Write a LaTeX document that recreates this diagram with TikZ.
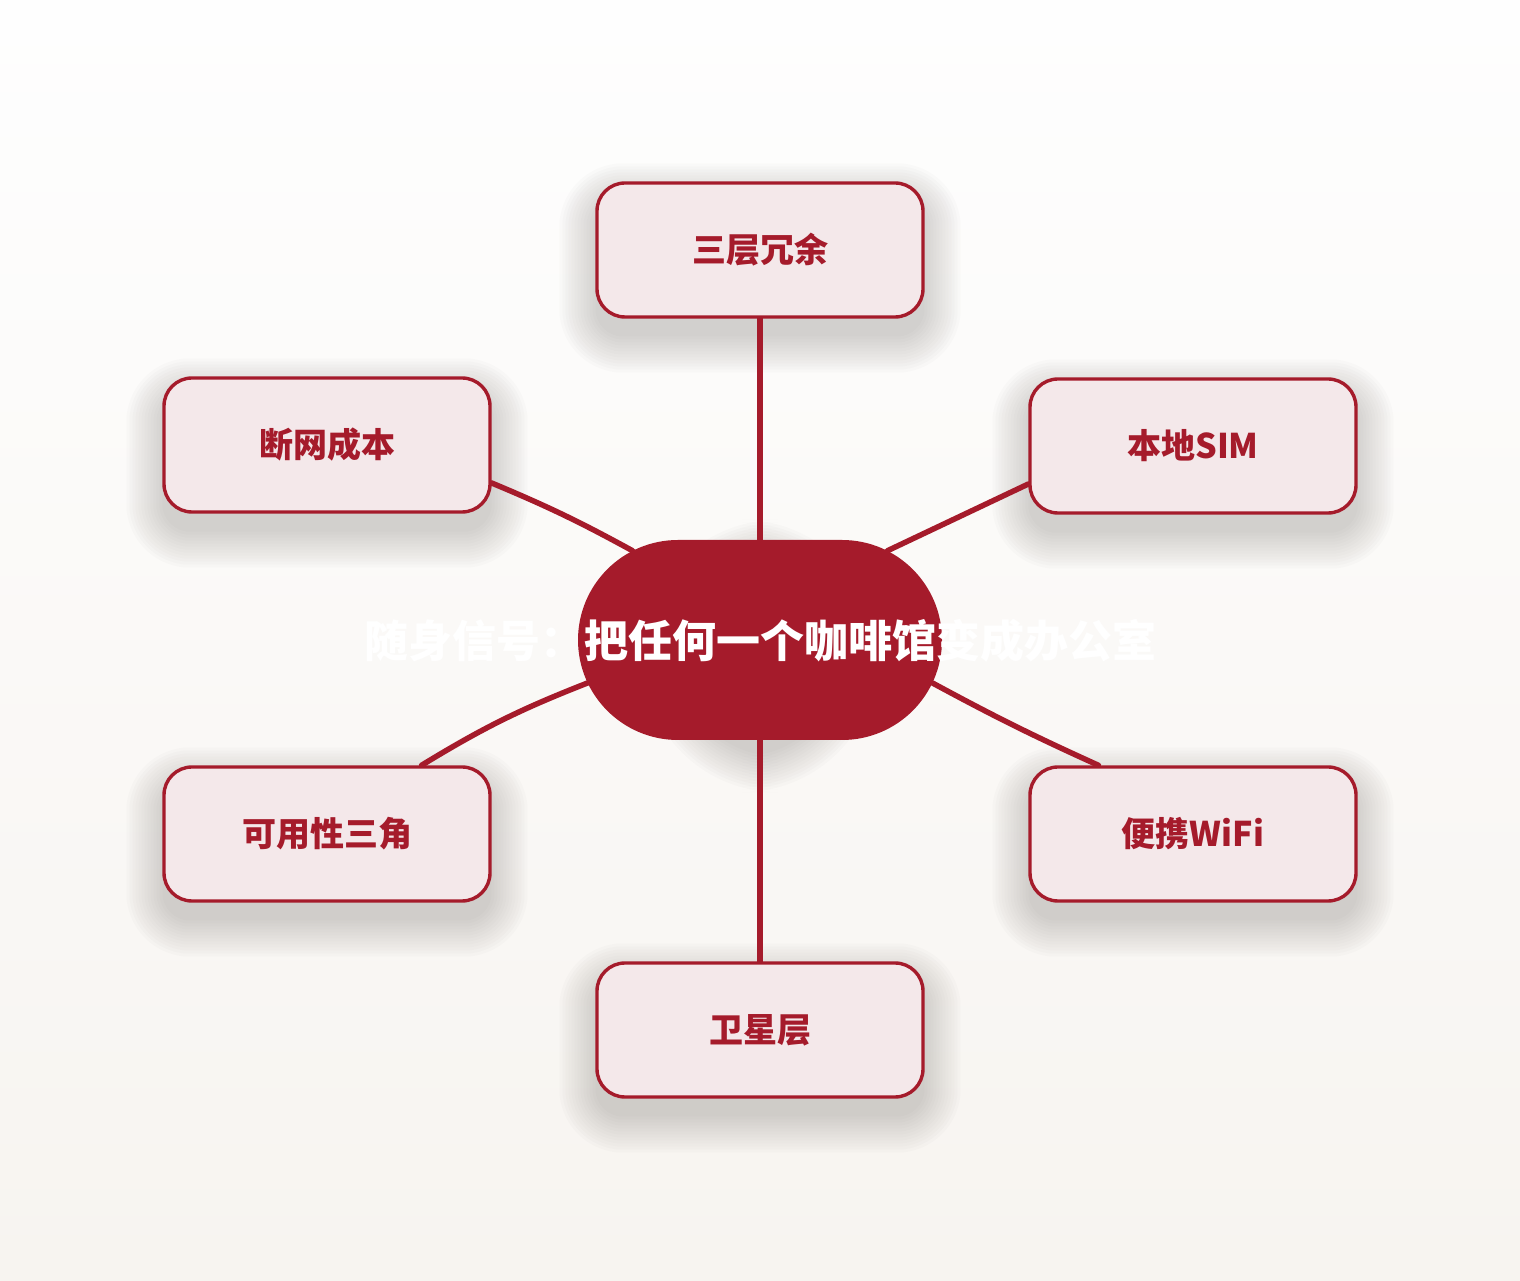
\documentclass[tikz,border=0pt]{standalone}
\usepackage{fontspec}
\setmainfont{Noto Sans CJK SC}
\usetikzlibrary{shapes.misc}
\definecolor{deepred}{HTML}{A51B2B}
\definecolor{palepink}{HTML}{F4E8EA}
\definecolor{bgtop}{HTML}{FEFEFE}
\definecolor{bgbot}{HTML}{F7F4F0}
\definecolor{shadowgray}{HTML}{5A5550}
\pgfdeclarelayer{bglayer}
\pgfdeclarelayer{shadowlayer}
\pgfdeclarelayer{linelayer}
\pgfsetlayers{bglayer,shadowlayer,linelayer,main}
\begin{document}
\begin{tikzpicture}[x=1pt,y=1pt,
  sat/.style={draw=deepred, line width=3.4pt, fill=palepink, rounded corners=28pt,
    minimum width=326pt, minimum height=134pt, inner sep=0pt,
    font=\fontsize{34}{40}\selectfont\bfseries, text=deepred},
  hub/.style={rounded rectangle, fill=deepred, minimum width=364pt, minimum height=200pt, inner sep=0pt},
  hubtext/.style={font=\fontsize{44}{52}\selectfont\bfseries, text=white, inner sep=0pt},
  link/.style={draw=deepred, line width=5.5pt, line cap=round},
  shadowstep/.style={fill=shadowgray, opacity=0.018}
]
\useasboundingbox (0,0) rectangle (1520,1280);
\begin{pgfonlayer}{bglayer}
  \shade[top color=bgtop, bottom color=bgbot] (0,0) rectangle (1520,1280);
\end{pgfonlayer}

\node[hub] (hub) at (760,640) {};
\node[hubtext] (hubt) at (760,639) {随身信号：把任何一个咖啡馆变成办公室};

\node[sat] (top)  at (760,1030) {三层冗余};
\node[sat] (sim)  at (1193,834) {本地SIM};
\node[sat] (wifi) at (1193,446) {便携WiFi};
\node[sat] (sat)  at (760,250)  {卫星层};
\node[sat] (tri)  at (327,446)  {可用性三角};
\node[sat] (cost) at (327,835)  {断网成本};

\begin{pgfonlayer}{shadowlayer}
  \foreach \n in {top,sim,wifi,sat,tri,cost}{
    \foreach \g in {0,3,...,36}{
      \pgfmathsetmacro{\rr}{28+\g}
      \fill[shadowstep, rounded corners=\rr pt]
        ([shift={(-\g pt,-\g pt-18pt)}]\n.south west) rectangle ([shift={(\g pt,\g pt-18pt)}]\n.north east);
    }
  }
  \foreach \g in {0,3,...,36}{
    \pgfmathsetmacro{\rr}{100+\g}
    \fill[shadowstep, rounded corners=\rr pt]
      ([shift={(-\g pt,-\g pt-16pt)}]hub.south west) rectangle ([shift={(\g pt,\g pt-16pt)}]hub.north east);
  }
\end{pgfonlayer}

\begin{pgfonlayer}{linelayer}
  \draw[link] (top.south) -- (hub.north);
  \draw[link] (sat.north) -- (hub.south);
  \draw[link] (cost.-13) to[bend left=3] (hub.145);
  \draw[link] (sim.193) -- (hub.35);
  \draw[link] (wifi.144) to[bend left=2] (hub.-14);
  \draw[link] (tri.36) to[bend left=5] (hub.194);
\end{pgfonlayer}
\end{tikzpicture}
\end{document}
